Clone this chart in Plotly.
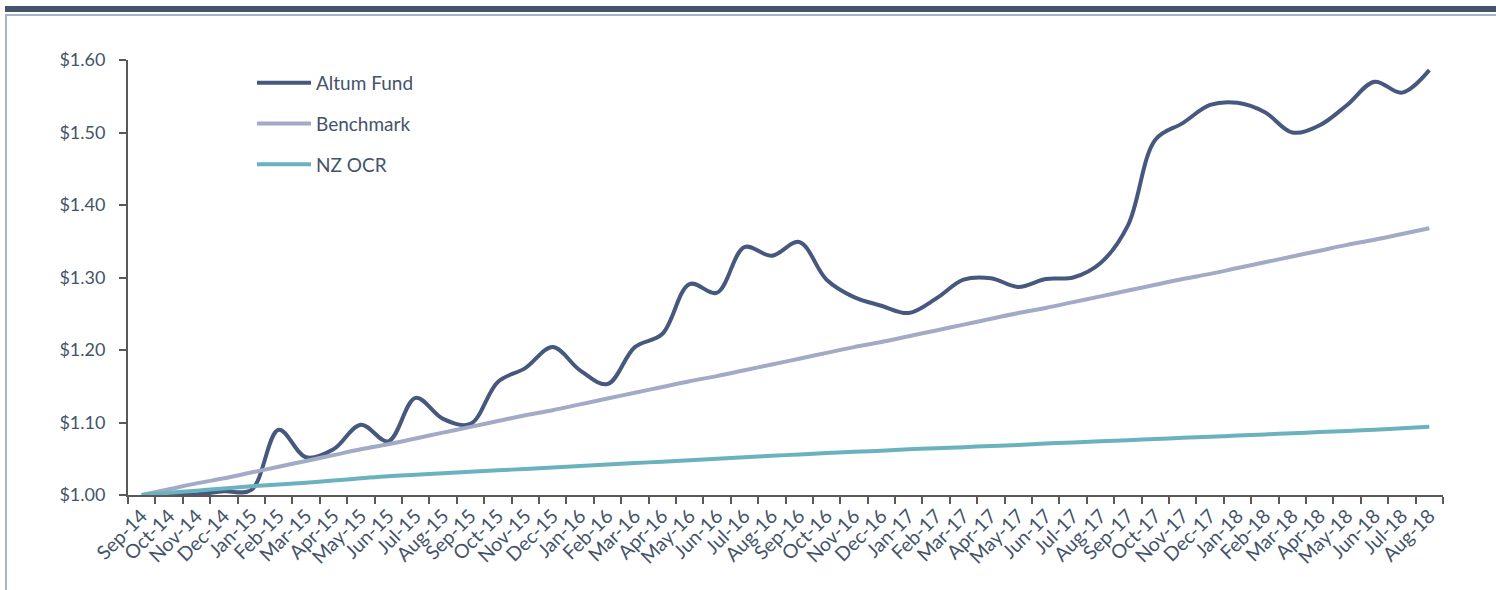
import plotly.graph_objects as go

months = ["Sep-14", "Oct-14", "Nov-14", "Dec-14", "Jan-15", "Feb-15", "Mar-15", "Apr-15",
          "May-15", "Jun-15", "Jul-15", "Aug-15", "Sep-15", "Oct-15", "Nov-15", "Dec-15",
          "Jan-16", "Feb-16", "Mar-16", "Apr-16", "May-16", "Jun-16", "Jul-16", "Aug-16",
          "Sep-16", "Oct-16", "Nov-16", "Dec-16", "Jan-17", "Feb-17", "Mar-17", "Apr-17",
          "May-17", "Jun-17", "Jul-17", "Aug-17", "Sep-17", "Oct-17", "Nov-17", "Dec-17",
          "Jan-18", "Feb-18", "Mar-18", "Apr-18", "May-18", "Jun-18", "Jul-18", "Aug-18"]

altum_fund = [1.000, 1.000, 1.001, 1.005, 1.007, 1.090, 1.052, 1.063, 1.097, 1.074,
              1.134, 1.105, 1.098, 1.156, 1.175, 1.204, 1.172, 1.153, 1.204, 1.222,
              1.291, 1.279, 1.342, 1.330, 1.349, 1.297, 1.273, 1.261, 1.251, 1.271,
              1.297, 1.299, 1.287, 1.298, 1.300, 1.320, 1.372, 1.490, 1.513, 1.538,
              1.541, 1.528, 1.500, 1.510, 1.538, 1.570, 1.555, 1.586]

benchmark = [1.000, 1.008, 1.016, 1.023, 1.031, 1.039, 1.047, 1.055, 1.063, 1.070,
             1.078, 1.086, 1.094, 1.102, 1.110, 1.117, 1.125, 1.133, 1.141, 1.149,
             1.157, 1.164, 1.172, 1.180, 1.188, 1.196, 1.204, 1.211, 1.219, 1.227,
             1.235, 1.243, 1.251, 1.258, 1.266, 1.274, 1.282, 1.290, 1.298, 1.305,
             1.313, 1.321, 1.329, 1.337, 1.345, 1.352, 1.360, 1.368]

nz_ocr = [1.000, 1.003, 1.006, 1.009, 1.012, 1.0145, 1.017, 1.020, 1.023, 1.026,
          1.028, 1.030, 1.032, 1.034, 1.036, 1.038, 1.040, 1.042, 1.044, 1.046,
          1.048, 1.050, 1.052, 1.054, 1.056, 1.058, 1.0595, 1.061, 1.063, 1.0645,
          1.066, 1.0675, 1.069, 1.071, 1.0725, 1.074, 1.0756, 1.0772, 1.0788, 1.0804,
          1.082, 1.0836, 1.0852, 1.0868, 1.0884, 1.090, 1.092, 1.094]

C_DARK = "#46587d"
C_BENCH = "#a1abc6"
C_TEAL = "#6ab2be"
C_TEXT = "#44546a"
C_AXIS = "#595959"
FONT = "Lato"

fig = go.Figure()
series = [("Altum Fund", altum_fund, C_DARK),
          ("Benchmark", benchmark, C_BENCH),
          ("NZ OCR", nz_ocr, C_TEAL)]
for name, vals, col in series:
    fig.add_trace(go.Scatter(
        x=months, y=vals, name=name, mode="lines",
        line=dict(color=col, width=4, shape="spline", smoothing=1.0),
        legendgroup=name,
    ))

W, H = 1496, 590
L, R, T, B = 128, 53, 60, 95
pw, ph = W - L - R, H - T - B


def px(x):
    return (x - L) / pw


def py(y):
    return (H - B - y) / ph


shapes = [
    dict(type="rect", xref="paper", yref="paper", x0=px(5), x1=px(1500), y0=py(12), y1=py(6),
         fillcolor="#44546a", line=dict(width=0), layer="above"),
    dict(type="rect", xref="paper", yref="paper", x0=px(5), x1=px(1500), y0=py(16), y1=py(14),
         fillcolor="#a9b3cc", line=dict(width=0), layer="above"),
    dict(type="rect", xref="paper", yref="paper", x0=px(5), x1=px(7), y0=py(600), y1=py(14),
         fillcolor="#a9b3cc", line=dict(width=0), layer="above"),
]

fig.update_layout(
    width=W, height=H,
    margin=dict(l=L, r=R, t=T, b=B, pad=0),
    paper_bgcolor="white", plot_bgcolor="white",
    font=dict(family=FONT, size=17, color=C_TEXT),
    shapes=shapes,
    showlegend=True,
    legend=dict(x=px(252), y=py(64), xanchor="left", yanchor="top",
                bgcolor="rgba(0,0,0,0)", font=dict(family=FONT, size=19, color=C_TEXT),
                tracegroupgap=13, itemwidth=54),
    xaxis=dict(
        type="category", range=[-0.5, 47.5], tickangle=-45,
        showline=True, linecolor=C_AXIS, linewidth=2,
        ticks="outside", tickson="boundaries", ticklen=7, tickwidth=2, tickcolor=C_AXIS,
        showgrid=False, zeroline=False,
        tickfont=dict(family=FONT, size=19.5, color=C_TEXT),
    ),
    yaxis=dict(
        range=[1.0, 1.6], dtick=0.1, tick0=1.0, tickformat="$.2f",
        showline=True, linecolor=C_AXIS, linewidth=2,
        ticks="outside", ticklen=7, tickwidth=2, tickcolor=C_AXIS,
        ticklabelstandoff=10,
        showgrid=False, zeroline=False,
        tickfont=dict(family=FONT, size=18, color=C_TEXT),
    ),
)

fig.write_html("out.html",
               config={"displayModeBar": False},
               post_script="document.body.style.margin='0';document.body.style.overflow='hidden';")
